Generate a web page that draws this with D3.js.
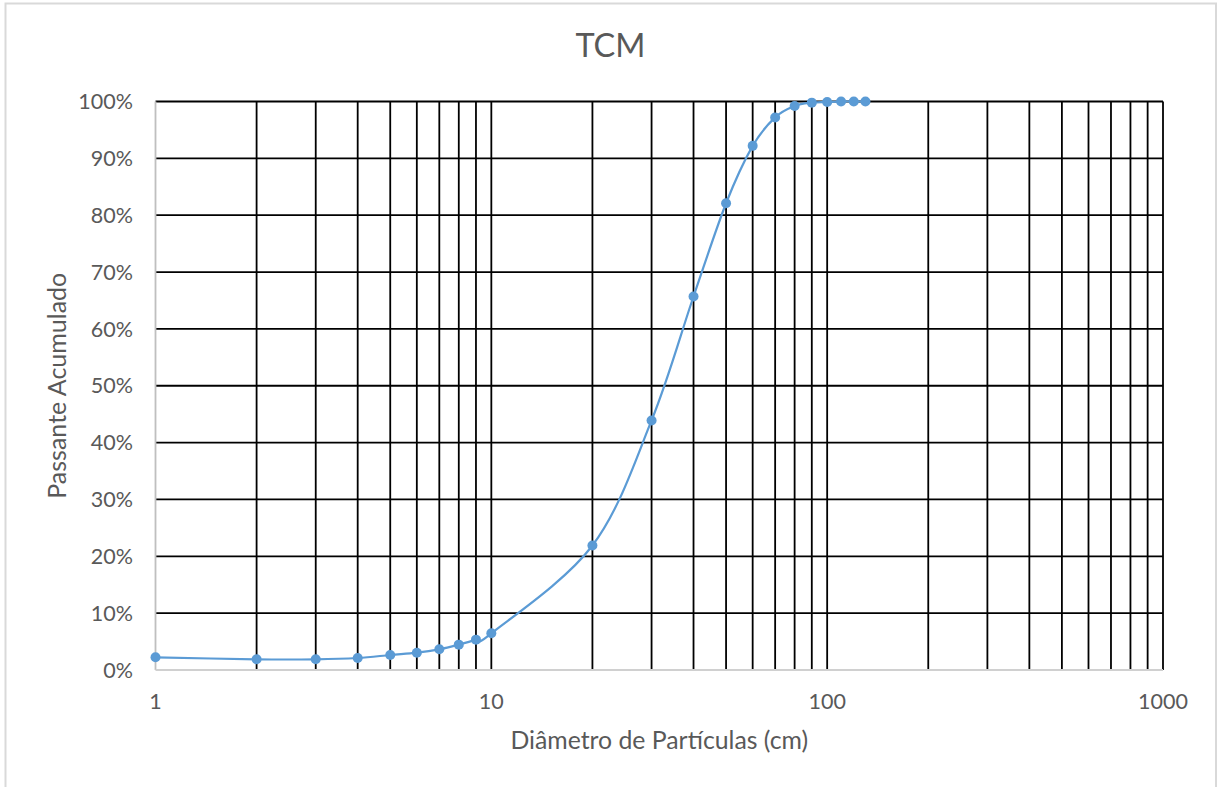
<!DOCTYPE html>
<html>
<head>
<meta charset="utf-8">
<script src="https://cdn.jsdelivr.net/npm/d3@7/dist/d3.min.js"></script>
<style>
  html, body { margin: 0; padding: 0; background: #fff; }
  svg { display: block; }
  text { font-family: Lato, "Open Sans", sans-serif; fill: #595959; }
</style>
</head>
<body>
<svg id="chart" width="1222" height="787"></svg>
<script>
// Particle size distribution (cumulative passing)
const chartTitle = "TCM";
const xAxisTitle = "Diâmetro de Partículas (cm)";
const yAxisTitle = "Passante Acumulado";

const diameters = [1, 2, 3, 4, 5, 6, 7, 8, 9, 10, 20, 30, 40, 50, 60, 70, 80, 90, 100, 110, 120, 130];
const passing   = [2.23, 1.88, 1.88, 2.11, 2.64, 3.05, 3.64, 4.46, 5.34, 6.45, 21.9, 43.9, 65.7, 82.1, 92.2, 97.2, 99.2, 99.8, 99.9, 100, 100, 100];

const xTickValues = [1, 10, 100, 1000];
const yTickValues = [0, 10, 20, 30, 40, 50, 60, 70, 80, 90, 100];

const svg = d3.select("#chart");
const plot = { left: 155.5, right: 1163, top: 101.5, bottom: 670 };

// outer chart frame
svg.append("rect")
  .attr("x", 5.5).attr("y", 3.5)
  .attr("width", 1210.5).attr("height", 800)
  .attr("fill", "#fff").attr("stroke", "#d9d9d9").attr("stroke-width", 2);

const x = d3.scaleLog().domain([1, 1000]).range([plot.left, plot.right]);
const y = d3.scaleLinear().domain([0, 100]).range([plot.bottom, plot.top]);

// minor + major vertical grid lines (1..9 per decade)
const vGrid = [];
for (let p = 0; p < 3; p++) {
  for (let m = 1; m < 10; m++) vGrid.push(m * Math.pow(10, p));
}
vGrid.push(1000);

const grid = svg.append("g");
grid.selectAll("line.v")
  .data(vGrid.filter(d => d > 1))
  .join("line")
  .attr("class", "v")
  .attr("x1", d => x(d)).attr("x2", d => x(d))
  .attr("y1", plot.top).attr("y2", plot.bottom)
  .attr("stroke", "#000").attr("stroke-width", 1.8);

grid.selectAll("line.h")
  .data(yTickValues.filter(d => d > 0))
  .join("line")
  .attr("class", "h")
  .attr("x1", plot.left).attr("x2", plot.right)
  .attr("y1", d => y(d)).attr("y2", d => y(d))
  .attr("stroke", "#000").attr("stroke-width", 1.8);

// axis lines
svg.append("line")
  .attr("x1", plot.left).attr("x2", plot.left)
  .attr("y1", plot.top).attr("y2", plot.bottom)
  .attr("stroke", "#bfbfbf").attr("stroke-width", 1.8);
svg.append("line")
  .attr("x1", plot.left).attr("x2", plot.right)
  .attr("y1", plot.bottom).attr("y2", plot.bottom)
  .attr("stroke", "#d0d0d0").attr("stroke-width", 1.8);

// y tick labels
svg.append("g").selectAll("text")
  .data(yTickValues)
  .join("text")
  .attr("x", 133)
  .attr("y", d => y(d))
  .attr("dy", "0.36em")
  .attr("text-anchor", "end")
  .style("font-size", "21.5px")
  .text(d => d + "%");

// x tick labels
svg.append("g").selectAll("text")
  .data(xTickValues)
  .join("text")
  .attr("x", d => x(d))
  .attr("y", 709)
  .attr("text-anchor", "middle")
  .style("font-size", "21.5px")
  .text(d => d);

// title
svg.append("text")
  .attr("x", 610.5).attr("y", 57)
  .attr("text-anchor", "middle")
  .style("font-size", "32.5px")
  .text(chartTitle);

// axis titles
svg.append("text")
  .attr("x", (plot.left + plot.right) / 2).attr("y", 749)
  .attr("text-anchor", "middle")
  .style("font-size", "24.8px")
  .text(xAxisTitle);

svg.append("text")
  .attr("transform", `translate(66, ${(plot.top + plot.bottom) / 2}) rotate(-90)`)
  .attr("text-anchor", "middle")
  .style("font-size", "25px")
  .text(yAxisTitle);

// smoothed series line and markers
const pts = diameters.map((d, i) => [d, passing[i]]);
const line = d3.line()
  .x(d => x(d[0]))
  .y(d => y(d[1]))
  .curve(d3.curveCatmullRom.alpha(0));

svg.append("path")
  .datum(pts)
  .attr("d", line)
  .attr("fill", "none")
  .attr("stroke", "#5b9bd5")
  .attr("stroke-width", 2.2);

svg.append("g").selectAll("circle")
  .data(pts)
  .join("circle")
  .attr("cx", d => x(d[0]))
  .attr("cy", d => y(d[1]))
  .attr("r", 5)
  .attr("fill", "#5b9bd5");
</script>
</body>
</html>
